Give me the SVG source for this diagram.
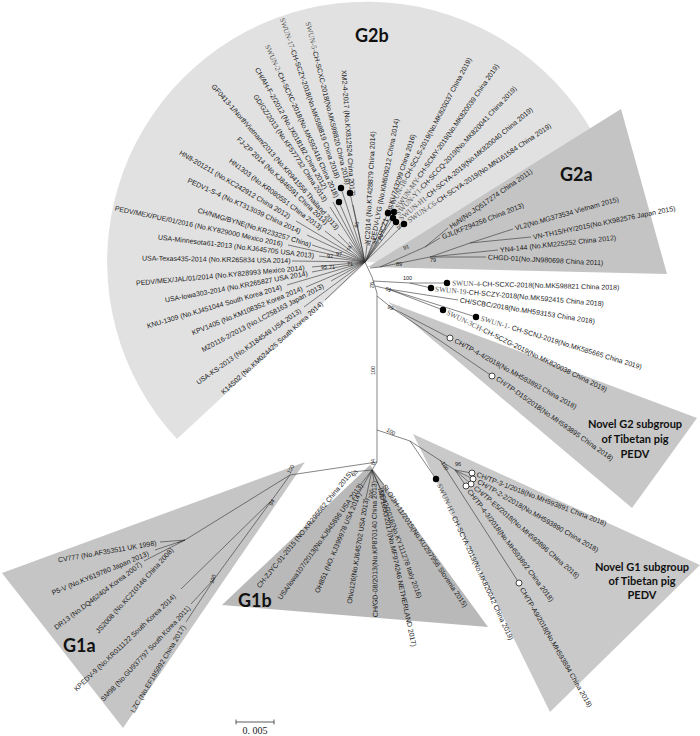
<svg xmlns="http://www.w3.org/2000/svg" width="700" height="736" viewBox="0 0 700 736">
<style>
text{font-family:"Liberation Sans",Arial,sans-serif;font-size:7px;fill:#1a1a1a}
.s{font-family:"Liberation Serif","Times New Roman",serif;font-size:7.4px;fill:#555}
.bs{font-size:5.5px;fill:#222}
.cl{font-family:Lato,"Open Sans",sans-serif;font-weight:700;font-size:18px;fill:#111}
.nv{font-family:Lato,"Open Sans",sans-serif;font-weight:700;font-size:11px;fill:#111;text-anchor:middle}
.br{fill:none;stroke:#333;stroke-width:0.6}
.fd{fill:#000}
.od{fill:#fff;stroke:#000;stroke-width:0.7}
.e{text-anchor:end}
</style>
<rect width="700" height="736" fill="#fff"/>
<g id="clades">
<path id="clade-G2b" d="M367,262 L177,439 A260,260 0 1 1 627,271 Z" fill="#e1e1e1"/>
<polygon id="clade-G2a" points="368,267 621,109 667,274" fill="#c4c4c4"/>
<polygon id="clade-novelG2" points="388,302 697,418 632,508" fill="#c7c7c7"/>
<polygon id="clade-G1a" points="2,573 305,462 123,728" fill="#c5c5c5"/>
<polygon id="clade-G1b" points="370,465 488,627 222,605" fill="#b9b9b9"/>
<polygon id="clade-novelG1" points="413,434 700,565 550,712" fill="#c9c9c9"/>
</g>
<g id="connectors" class="br">
<path d="M365,262 L350,193 M365,262 L341,188 M365,262 L339,202 M365,262 L333,202 M365,262 L330,207 M365,262 L349,242 M365,262 L338,234 M365,262 L325,231 M365,262 L296,221 M365,262 L307,235 M365,262 L312,245 M365,262 L288,245 M365,262 L319,256 M365,262 L292,261 M365,262 L312,267 M365,262 L312,272 M365,262 L287,285 M365,262 L306,287 M365,262 L331,281 M365,262 L304,307 M365,262 L325,300 M365,262 L353,205"/>
<path d="M365,262 L367,245 M365,262 L373,242 M365,262 L379,242 M365,262 L388,213 M365,262 L394,212 M365,262 L393,218 M365,262 L396,222 M365,262 L404,224"/>
<path d="M365,262 L372,277 L377,293 L377,462"/>
<path d="M370,268 L380,267 L425,247 L448,228 M425,247 L440,238 M380,267 L430,257 L486,257 M430,257 L498,250 M430,257 L470,243 L513,229 M470,243 L531,237"/>
<path d="M373,281 L410,283 L447,283 M410,283 L431,288 M375,286 L388,289 L458,300 M388,289 L476,317 M388,289 L443,310"/>
<path d="M377,296 L392,308 L450,338 M392,308 L492,376"/>
<path d="M377,430 L410,441 L436,479 M410,441 L455,470 L472,473 M455,470 L473,479 M455,470 L471,484 M455,470 L466,486 M440,460 L519,583"/>
<path d="M377,462 L372,470 M372,470 L351,472 M372,470 L361,484 M372,470 L359,493 M372,470 L366,498 M372,470 L374,481 M372,470 L381,490 M372,470 L380,488 M372,470 L384,485"/>
<path d="M377,462 L290,475 L185,540 L160,542 M185,540 L155,550 M185,540 L144,561 M185,540 L177,543 M290,475 L272,500 L181,589 M272,500 L215,578 L191,604 M215,578 L186,622"/>
</g>
<g id="bootstrap">
<text class="bs" x="327" y="258">92</text><text class="bs" x="336" y="256">97</text>
<text class="bs" x="321" y="269">95</text><text class="bs" x="329" y="269">71</text>
<text class="bs" x="347" y="266">71</text>
<text class="bs" transform="translate(350,252) rotate(-70)">74</text>
<text class="bs" transform="translate(358,228) rotate(-80)">86</text>
<text class="bs" transform="translate(370,246) rotate(-80)">91</text>
<text class="bs" transform="translate(376,244) rotate(-75)">84</text>
<text class="bs" transform="translate(399,230) rotate(-45)">99</text>
<text class="bs" transform="translate(404,250) rotate(-20)">91</text>
<text class="bs" x="396" y="266">89</text>
<text class="bs" x="430" y="262">79</text>
<text class="bs" x="403" y="280">100</text>
<text class="bs" transform="translate(385,290) rotate(20)">61</text>
<text class="bs" transform="translate(387,308) rotate(25)">99</text>
<text class="bs" transform="translate(370,282) rotate(90)">92</text>
<text class="bs" transform="translate(375,375) rotate(-90)">100</text>
<text class="bs" transform="translate(375,465) rotate(-90)">84</text>
<text class="bs" transform="translate(386,431) rotate(30)">100</text>
<text class="bs" transform="translate(441,463) rotate(60)">100</text>
<text class="bs" x="455" y="466">96</text>
<text class="bs" transform="translate(355,477) rotate(-60)">93</text>
<text class="bs" transform="translate(372,499) rotate(-80)">100</text>
<text class="bs" transform="translate(290,474) rotate(-60)">100</text>
<text class="bs" transform="translate(272,506) rotate(-60)">94</text>
<text class="bs" transform="translate(213,584) rotate(-70)">100</text>
</g>
<g id="leaves-G2b">
<g id="n01"><text transform="translate(308,22) rotate(76.2)" dy="2.5"><tspan class="s">SWUN-5-</tspan>CH-SCXC-2018(No.MK598820 China 2018)</text><circle class="fd" cx="350" cy="193" r="3.2"/></g>
<g id="n02"><text transform="translate(282,18) rotate(70.8)" dy="2.5"><tspan class="s">SWUN-17-</tspan>CH-SCZY-2018(No.MK598819 China 2018)</text><circle class="fd" cx="341" cy="188" r="3.2"/></g>
<g id="n03"><text transform="translate(267,45) rotate(65.3)" dy="2.5"><tspan class="s">SWUN-2-</tspan>CH-SCXC-2018(No.MK592416 China 2018)</text><circle class="fd" cx="339" cy="202" r="3.2"/></g>
<g id="n04"><text transform="translate(257,68) rotate(60.4)" dy="2.5">CH/AH-F-2/2012 (No.JX018182 China 2012)</text></g>
<g id="n05"><text transform="translate(255,95) rotate(56.2)" dy="2.5">GD/GZ/2013 (No.KF577732 China 2013)</text></g>
<g id="n06"><text transform="translate(213,85) rotate(49)" dy="2.5">GF0413-1/NorthVietnam/2013 (No.KR941556 Thailand 2013)</text></g>
<g id="n07"><text transform="translate(238,138) rotate(43.9)" dy="2.5">FJ-ZP 2014 (No.KJ846591 China 2014)</text></g>
<g id="n08"><text transform="translate(230,160) rotate(36.7)" dy="2.5">HN1303 (No.KR080551 China 2013)</text></g>
<g id="n09"><text transform="translate(180,152) rotate(30.5)" dy="2.5">HN8-201211 (No.KC242912 China 2012)</text></g>
<g id="n10"><text transform="translate(188,180) rotate(24.6)" dy="2.5">PEDV1-S-4 (No.KT313039 China 2014)</text></g>
<g id="n11"><text transform="translate(198,210) rotate(17.1)" dy="2.5">CH/NMG/BYNE(No.KR233257 China)</text></g>
<g id="n12"><text transform="translate(115,208) rotate(12.1)" dy="2.5">PEDV/MEX/PUE/01/2016 (No.KY829000 Mexico 2016)</text></g>
<g id="n13"><text transform="translate(158,237) rotate(6.8)" dy="2.5">USA-Minnesota61-2013 (No.KJ645705 USA 2013)</text></g>
<g id="n14"><text transform="translate(142,258) rotate(1)" dy="2.5">USA-Texas435-2014 (No.KR265834 USA 2014)</text></g>
<g id="n15"><text transform="translate(136,283) rotate(-5.2)" dy="2.5">PEDV/MEX/JAL/01/2014 (No.KY828993 Mexico 2014)</text></g>
<g id="n16"><text transform="translate(165,300) rotate(-10.7)" dy="2.5">USA-Iowa303-2014 (No.KR265827 USA 2014)</text></g>
<g id="n17"><text transform="translate(147,326) rotate(-16.2)" dy="2.5">KNU-1309 (No.KJ451044 South Korea 2014)</text></g>
<g id="n18"><text transform="translate(192,333) rotate(-22.1)" dy="2.5">KPV1405 (No.KM108352 Korea 2014)</text></g>
<g id="n19"><text transform="translate(202,350) rotate(-28.1)" dy="2.5">MZ0116-2/2013 (No.LC258163 Japan 2013)</text></g>
<g id="n20"><text transform="translate(197,383) rotate(-35.4)" dy="2.5">USA-KS-2013 (No.KJ184549 USA 2013)</text></g>
<g id="n21"><text transform="translate(222,393) rotate(-42.1)" dy="2.5">K14S02 (No.KM024425 South Korea 2014)</text></g>
<g id="n22"><text transform="translate(344,70) rotate(86)" dy="2.5">XM2-4-2017 (No.KX812524 China 2017)</text></g>
<g id="n23"><text transform="translate(367,244) rotate(-87)" dy="2.5">YC2014 (No.KT428879 China 2014)</text></g>
<g id="n24"><text transform="translate(373,240) rotate(-79)" dy="2.5">PEDV-LYG (No.KM609212 China 2014)</text></g>
<g id="n25"><text transform="translate(379,240) rotate(-72)" dy="2.5">AHCZ1 (No.KU743299 China 2016)</text></g>
<g id="n26"><text transform="translate(390,208) rotate(-62)" dy="2.5"><tspan class="s">SWUN-18-</tspan>CH-SCLS-2019(No.MK820037 China 2019)</text><circle class="fd" cx="388" cy="213" r="3.2"/></g>
<g id="n27"><text transform="translate(397,208) rotate(-55)" dy="2.5"><tspan class="s">SWUN-MY-</tspan>CH-SCMY-2019(No.MK820039 China 2019)</text><circle class="fd" cx="394" cy="212" r="3.2"/></g>
<g id="n28"><text transform="translate(397,214) rotate(-47)" dy="2.5"><tspan class="s">SWUN-Y1-</tspan>CH-SCCQ-2019(No.MK820041 China 2019)</text><circle class="fd" cx="393" cy="218" r="3.2"/></g>
<g id="n29"><text transform="translate(400,219) rotate(-40)" dy="2.5"><tspan class="s">SWUN-H1-</tspan>CH-SCYA-2019(No.MK820040 China 2019)</text><circle class="fd" cx="396" cy="222" r="3.2"/></g>
<g id="n30"><text transform="translate(408,221) rotate(-34)" dy="2.5"><tspan class="s">SWUN-C6-</tspan>CH-SCYA-2019(No.MN161584 China 2019)</text><circle class="fd" cx="404" cy="224" r="3.2"/></g>
</g>
<g id="leaves-G2a">
<g id="n31"><text transform="translate(450,227) rotate(-34.8)" dy="2.5">HuN(No.JQ517274 China 2011)</text></g>
<g id="n32"><text transform="translate(442,237) rotate(-21.6)" dy="2.5">GJL(KF294256 China 2013)</text></g>
<g id="n33"><text transform="translate(515,228) rotate(-15.7)" dy="2.5">VL2(No.MG373534  Vietnam 2015)</text></g>
<g id="n34"><text transform="translate(533,237) rotate(-11.5)" dy="2.5">VN-TH15/HY/2015(No.KX982576  Japan 2015)</text></g>
<g id="n35"><text transform="translate(500,250) rotate(-6.2)" dy="2.5">YN4-144 (No.KM225252  China 2012)</text></g>
<g id="n36"><text transform="translate(488,257) rotate(2.9)" dy="2.5">CHGD-01(No.JN980698 China 2011)</text></g>
</g>
<g id="leaves-G2c">
<g id="n37"><text transform="translate(452,283) rotate(1.5)" dy="2.5"><tspan class="s">SWUN-4-</tspan>CH-SCXC-2018(No.MK598821 China 2018)</text><circle class="fd" cx="447" cy="283" r="3.2"/></g>
<g id="n38"><text transform="translate(435,289) rotate(5)" dy="2.5"><tspan class="s">SWUN-19</tspan>-CH-SCZY-2018(No.MK592415 China 2018)</text><circle class="fd" cx="431" cy="288" r="3.2"/></g>
<g id="n39"><text transform="translate(460,300) rotate(9)" dy="2.5">CH/SCBC/2018(No.MH593153 China 2018)</text></g>
<g id="n40"><text transform="translate(481,318) rotate(17)" dy="2.5"><tspan class="s">SWUN-1-</tspan> CH-SCNJ-2019(No.MK585665 China 2019)</text><circle class="fd" cx="476" cy="317" r="3.2"/></g>
<g id="n41"><text transform="translate(447,312) rotate(26)" dy="2.5"><tspan class="s">SWUN-3CH-</tspan>CH-SCZG-2019(No.MK820038 China 2019)</text><circle class="fd" cx="443" cy="310" r="3.2"/></g>
<g id="n42"><text transform="translate(455,340) rotate(29)" dy="2.5">CH/TP-4-4/2018(No.MH593893 China 2018)</text><circle class="od" cx="450" cy="338" r="3"/></g>
<g id="n43"><text transform="translate(497,378) rotate(35)" dy="2.5">CH/TP-D15/2018(No.MH593895 China 2018)</text><circle class="od" cx="492" cy="376" r="3"/></g>
</g>
<g id="leaves-novelG1">
<g id="n44"><text transform="translate(477,474) rotate(21)" dy="2.5">CH/TP-3-1/2018(No.MH593891 China 2018)</text><circle class="od" cx="472" cy="473" r="3"/></g>
<g id="n45"><text transform="translate(478,481) rotate(30)" dy="2.5">CH/TP-2-2/2018(No.MH593890 China 2018)</text><circle class="od" cx="473" cy="479" r="3"/></g>
<g id="n46"><text transform="translate(475,487) rotate(41)" dy="2.5">CH/TP-E5/2018(No.MH593896 China 2018)</text><circle class="od" cx="471" cy="484" r="3"/></g>
<g id="n47"><text transform="translate(469,490) rotate(53)" dy="2.5">CH/TP-4-3/2018(No.MH593892 China 2018)</text><circle class="od" cx="466" cy="486" r="3"/></g>
<g id="n48"><text transform="translate(522,588) rotate(60)" dy="2.5">CH/TP-A9/2018(No.MH593894 China 2018)</text><circle class="od" cx="519" cy="583" r="3"/></g>
<g id="n49"><text transform="translate(439,484) rotate(65)" dy="2.5"><tspan class="s">SWUN-H3-</tspan>CH-SCYA-2019(No.MK820042 China 2019)</text><circle class="fd" cx="436" cy="479" r="3.2"/></g>
</g>
<g id="leaves-G1b">
<g id="n50"><text class="e" transform="translate(351,472) rotate(-51)" dy="2.5">CH-ZJYC-01-2015 (NO.KR296682 China 2015)</text></g>
<g id="n51"><text class="e" transform="translate(361,484) rotate(-54.5)" dy="2.5">USA/Iowa107/2013(No.KJ645696 USA 2013)</text></g>
<g id="n52"><text class="e" transform="translate(359,493) rotate(-67)" dy="2.5">OH851 (NO. KJ399978 USA 2014)</text></g>
<g id="n53"><text class="e" transform="translate(366,498) rotate(-81)" dy="2.5">Ohio126(No.KJ645702 USA 2013)</text></g>
<g id="n54"><text class="e" transform="translate(374,481) rotate(-90.5)" dy="2.5">CH/GD-08/2013(No.KP870140 China 2013)</text></g>
<g id="n55"><text transform="translate(381,490) rotate(78)" dy="2.5">NL/1000/2017(No.MF974246 NETHERLAND 2017)</text></g>
<g id="n56"><text transform="translate(380,488) rotate(70)" dy="2.5">IT/842/2016(No.KY111278 Italy 2016)</text></g>
<g id="n57"><text transform="translate(384,485) rotate(56)" dy="2.5">SLO/JH-11/2015(No.KU297956 Slovenia 2015)</text></g>
</g>
<g id="leaves-G1a">
<g id="n58"><text transform="translate(58,560) rotate(-10)" dy="2.5">CV777 (No.AF353511 UK 1998)</text></g>
<g id="n59"><text transform="translate(52,593) rotate(-22.5)" dy="2.5">P5-V (No.KY619780 Japan 2013)</text></g>
<g id="n60"><text transform="translate(55,628) rotate(-37)" dy="2.5">DR13 (No.DQ462404 Korea 2007)</text></g>
<g id="n61"><text transform="translate(97,632) rotate(-48)" dy="2.5">JS2008 (No.KC210146 China 2008)</text></g>
<g id="n62"><text transform="translate(75,690) rotate(-43.6)" dy="2.5">KPEDV-9 (No.KR011122 South Korea 2014)</text></g>
<g id="n63"><text transform="translate(102,700) rotate(-47)" dy="2.5">SM98 (No.GU937797 South Korea 2011)</text></g>
<g id="n64"><text transform="translate(132,712) rotate(-59)" dy="2.5">LZC (No.EF185992 China 2017)</text></g>
</g>
<g id="clade-labels">
<text class="cl" x="355" y="42">G2b</text>
<text class="cl" x="560" y="181">G2a</text>
<text class="cl" x="63" y="652">G1a</text>
<text class="cl" x="238" y="607">G1b</text>
<text class="nv" x="635" y="428">Novel G2 subgroup</text>
<text class="nv" x="635" y="443">of Tibetan pig</text>
<text class="nv" x="635" y="458">PEDV</text>
<text class="nv" x="642" y="571">Novel G1 subgroup</text>
<text class="nv" x="642" y="585">of Tibetan pig</text>
<text class="nv" x="642" y="599">PEDV</text>
</g>
<g id="scale-bar">
<path class="br" d="M236,722 L274,722 M236,719.5 L236,724.5 M274,719.5 L274,724.5" style="stroke-width:0.8"/>
<text x="255" y="734" style="font-family:'Liberation Serif',serif;font-size:10px;text-anchor:middle">0. 005</text>
</g>
</svg>
